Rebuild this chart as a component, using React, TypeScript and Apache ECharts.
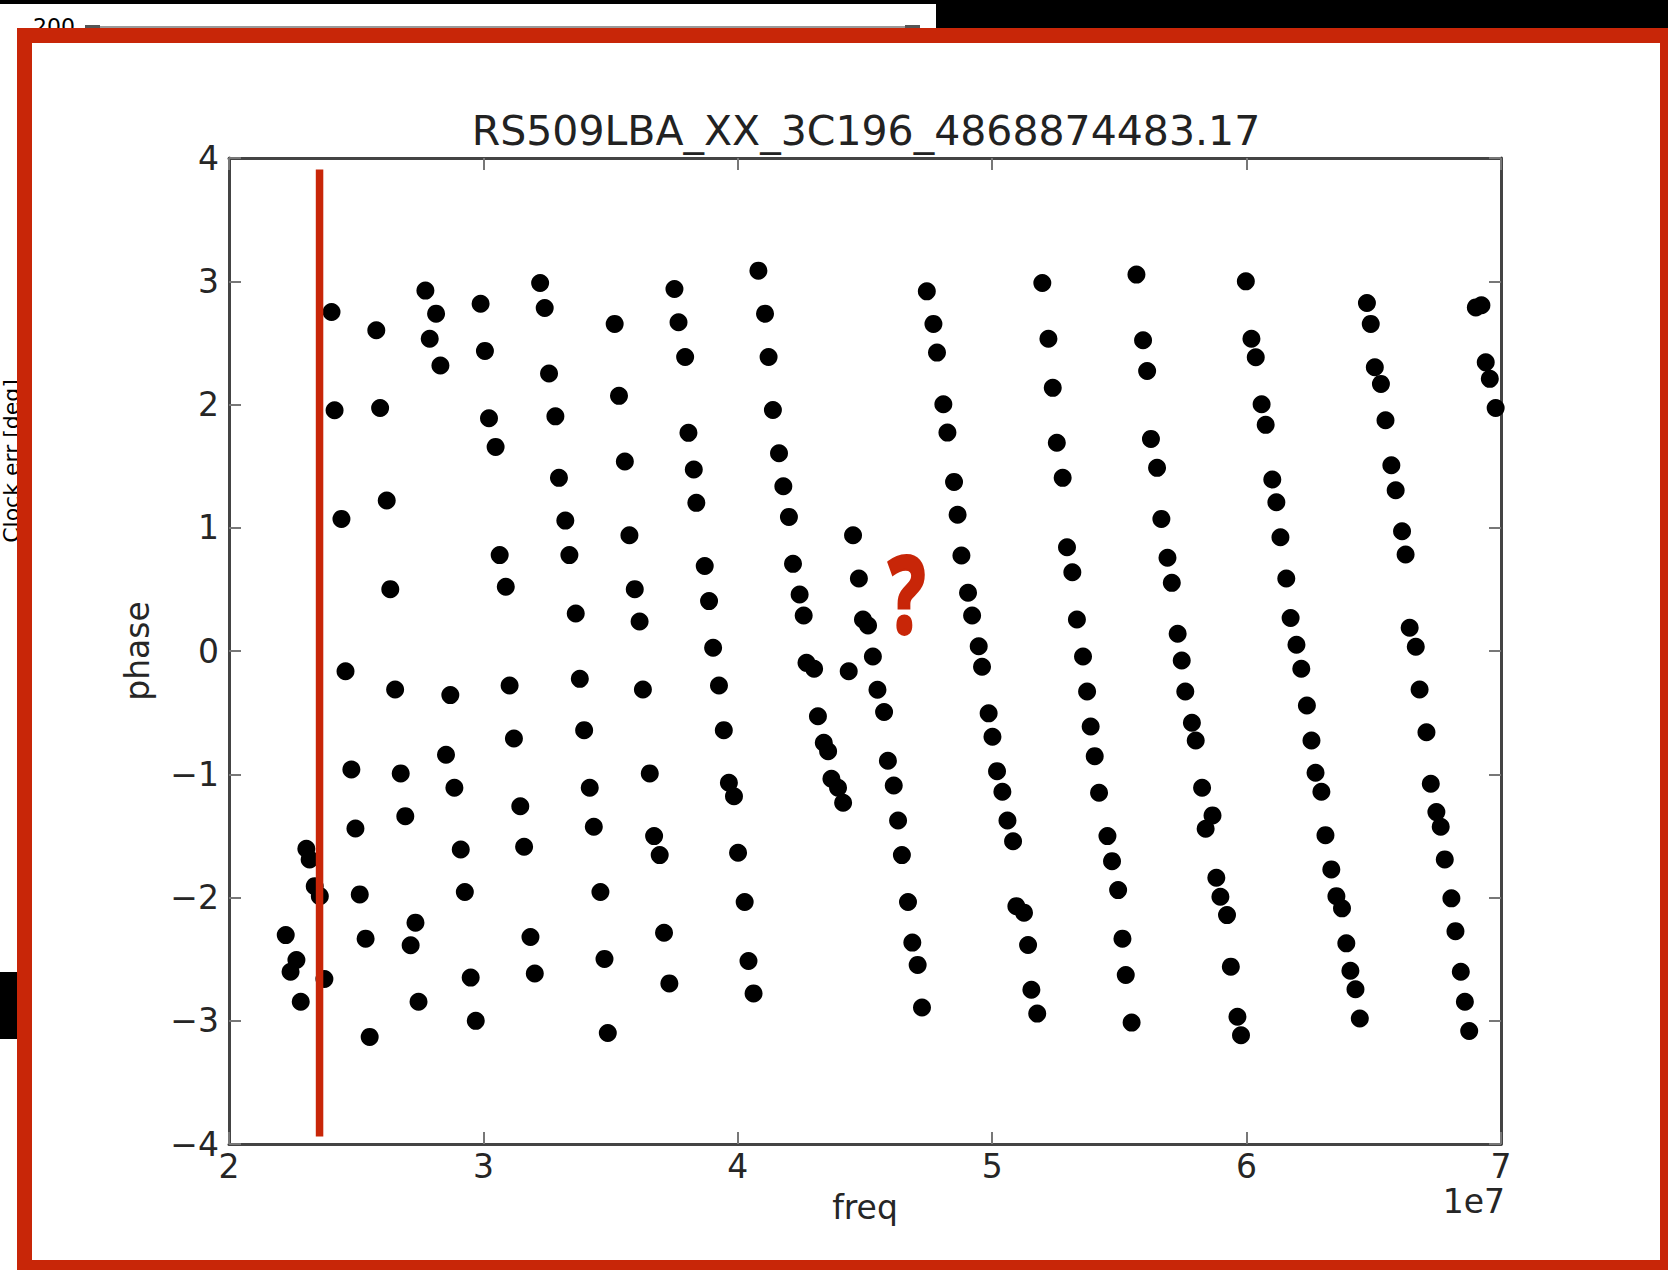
import { useEffect, useRef } from "react";
import * as echarts from "echarts";

const TITLE = "RS509LBA_XX_3C196_4868874483.17";
const X_NAME = "freq";
const Y_NAME = "phase";
const X_OFFSET_LABEL = "1e7";
const X_MIN = 2;
const X_MAX = 7;
const Y_MIN = -4;
const Y_MAX = 4;

// freq values are in units of 1e7 Hz, phase in radians
const freqLow = [
  2.223, 2.265, 2.242, 2.282, 2.304, 2.317, 2.337, 2.357, 2.375,
  2.403, 2.415, 2.442, 2.458, 2.481, 2.497, 2.514, 2.537, 2.553,
  2.579, 2.594, 2.62, 2.634, 2.653, 2.675, 2.693, 2.714, 2.733, 2.745,
  2.772, 2.789, 2.814, 2.831, 2.853, 2.87, 2.886, 2.911, 2.927, 2.95, 2.97,
  2.989, 3.006, 3.022, 3.048, 3.064, 3.088, 3.103, 3.12, 3.145, 3.16, 3.185, 3.202,
  3.223, 3.241, 3.258, 3.283, 3.297, 3.322, 3.338, 3.363, 3.379, 3.396, 3.418, 3.434, 3.46, 3.476, 3.489,
];
const phaseLow = [
  -2.305, -2.507, -2.602, -2.846, -1.604, -1.691, -1.908, -1.989, -2.661,
  2.751, 1.953, 1.072, -0.164, -0.961, -1.44, -1.975, -2.334, -3.131,
  2.602, 1.972, 1.221, 0.502, -0.312, -0.993, -1.34, -2.388, -2.204, -2.846,
  2.924, 2.534, 2.737, 2.316, -0.842, -0.358, -1.109, -1.61, -1.956, -2.65, -3.001,
  2.818, 2.435, 1.888, 1.656, 0.778, 0.521, -0.28, -0.71, -1.259, -1.588, -2.321, -2.616,
  2.986, 2.783, 2.251, 1.904, 1.405, 1.058, 0.778, 0.304, -0.226, -0.642, -1.109, -1.426, -1.956, -2.498, -3.099,
];

const freqMid = [
  3.516, 3.533, 3.556, 3.574, 3.595, 3.614, 3.627, 3.654, 3.671, 3.693, 3.71, 3.731,
  3.751, 3.767, 3.793, 3.806, 3.827, 3.837, 3.87, 3.887, 3.903, 3.926, 3.945, 3.965, 3.985, 4.001, 4.027, 4.042, 4.062,
  4.081, 4.107, 4.121, 4.138, 4.162, 4.179, 4.201, 4.217, 4.243, 4.259, 4.27, 4.3, 4.315, 4.338, 4.355, 4.368, 4.394, 4.414,
  4.436,
  4.453, 4.476, 4.492, 4.512, 4.531, 4.549, 4.575, 4.59, 4.613, 4.63, 4.645, 4.669, 4.686, 4.707, 4.724,
];
const phaseMid = [
  2.654, 2.07, 1.537, 0.939, 0.502, 0.24, -0.312, -0.993, -1.502, -1.656, -2.286, -2.697,
  2.937, 2.667, 2.386, 1.77, 1.472, 1.202, 0.689, 0.405, 0.026, -0.28, -0.642, -1.069, -1.178, -1.637, -2.037, -2.515, -2.778,
  3.086, 2.737, 2.386, 1.956, 1.604, 1.337, 1.088, 0.707, 0.458, 0.288, -0.096, -0.144, -0.529, -0.745, -0.813, -1.037, -1.109, -1.231,
  -0.164,
  0.939, 0.588, 0.256, 0.207, -0.044, -0.314, -0.495, -0.89, -1.091, -1.375, -1.656, -2.037, -2.366, -2.547, -2.892,
];

const freqHigh = [
  4.743, 4.769, 4.783, 4.808, 4.824, 4.85, 4.864, 4.879, 4.905, 4.921, 4.947, 4.96, 4.986, 5.001, 5.019, 5.04, 5.06, 5.082, 5.095, 5.125, 5.141, 5.154, 5.177,
  5.197, 5.221, 5.238, 5.254, 5.277, 5.294, 5.315, 5.333, 5.357, 5.373, 5.387, 5.403, 5.42, 5.453, 5.471, 5.495, 5.512, 5.525, 5.548,
  5.567, 5.593, 5.609, 5.624, 5.648, 5.665, 5.689, 5.706, 5.729, 5.745, 5.759, 5.785, 5.8, 5.825, 5.866, 5.839, 5.881, 5.897, 5.923, 5.938, 5.964, 5.978,
];
const phaseHigh = [
  2.918, 2.654, 2.421, 2.002, 1.772, 1.372, 1.105, 0.775, 0.472, 0.288, 0.039, -0.128, -0.506, -0.696, -0.975, -1.142, -1.375, -1.543, -2.07, -2.123, -2.386, -2.748, -2.942,
  2.986, 2.534, 2.135, 1.689, 1.405, 0.842, 0.639, 0.256, -0.044, -0.328, -0.612, -0.853, -1.15, -1.502, -1.705, -1.94, -2.334, -2.629, -3.015,
  3.054, 2.521, 2.272, 1.721, 1.486, 1.072, 0.756, 0.553, 0.14, -0.077, -0.328, -0.582, -0.726, -1.109, -1.334, -1.442, -1.84, -1.994, -2.143, -2.561, -2.968, -3.118,
];

const freqTop = [
  5.997, 6.019, 6.036, 6.059, 6.075, 6.101, 6.117, 6.133, 6.156, 6.173, 6.196, 6.215, 6.237, 6.255, 6.271, 6.294, 6.31, 6.333, 6.353, 6.375, 6.392, 6.408, 6.428, 6.445,
  6.473, 6.488, 6.504, 6.528, 6.546, 6.569, 6.586, 6.611, 6.625, 6.641, 6.665, 6.68, 6.707, 6.724, 6.746, 6.763, 6.779, 6.805, 6.821, 6.842, 6.858, 6.875,
  6.901, 6.923, 6.94, 6.956, 6.979,
];
const phaseTop = [
  2.999, 2.534, 2.383, 2.002, 1.835, 1.391, 1.207, 0.923, 0.588, 0.268, 0.051, -0.144, -0.442, -0.726, -0.988, -1.142, -1.494, -1.772, -1.989, -2.088, -2.372, -2.594, -2.745, -2.982,
  2.824, 2.654, 2.302, 2.167, 1.872, 1.507, 1.304, 0.972, 0.783, 0.188, 0.034, -0.312, -0.659, -1.077, -1.307, -1.426, -1.691, -2.007, -2.273, -2.602, -2.846, -3.083,
  2.788, 2.805, 2.342, 2.208, 1.972,
];

const RED = "#c82608";
const FONT = "DejaVu Sans";

function pairs(xs: number[], ys: number[]) {
  return xs.map((x, i) => [x, ys[i]]);
}

const fmt = (v: number) => (v < 0 ? "\u2212" + Math.abs(v) : String(v));

export default function App() {
  const ref = useRef<HTMLDivElement>(null);
  useEffect(() => {
    if (!ref.current) return;
    const chart = echarts.init(ref.current, null, { renderer: "svg" });
    const axisLine = { show: true, onZero: false, lineStyle: { color: "#444", width: 3 } };
    const axisTick = { show: true, inside: true, length: 12, lineStyle: { color: "#777", width: 2 } };
    const data = [
      ...pairs(freqLow, phaseLow),
      ...pairs(freqMid, phaseMid),
      ...pairs(freqHigh, phaseHigh),
      ...pairs(freqTop, phaseTop),
    ];
    chart.setOption({
      animation: false,
      backgroundColor: "#ffffff",
      grid: { left: 229, top: 158, width: 1272, height: 986, containLabel: false },
      xAxis: [
        {
          type: "value",
          min: X_MIN,
          max: X_MAX,
          interval: 1,
          position: "bottom",
          axisLine,
          axisTick,
          splitLine: { show: false },
          axisLabel: { formatter: fmt, fontFamily: FONT, fontSize: 33, color: "#262626", margin: 6 },
          name: X_NAME,
          nameLocation: "middle",
          nameGap: 47,
          nameTextStyle: { fontFamily: FONT, fontSize: 33, color: "#262626" },
        },
        {
          type: "value",
          min: X_MIN,
          max: X_MAX,
          interval: 1,
          position: "top",
          axisLine,
          axisTick,
          splitLine: { show: false },
          axisLabel: { show: false },
        },
      ],
      yAxis: [
        {
          type: "value",
          min: Y_MIN,
          max: Y_MAX,
          interval: 1,
          position: "left",
          axisLine,
          axisTick,
          splitLine: { show: false },
          axisLabel: { formatter: fmt, fontFamily: FONT, fontSize: 33, color: "#262626", margin: 10 },
          name: Y_NAME,
          nameLocation: "middle",
          nameGap: 75,
          nameTextStyle: { fontFamily: FONT, fontSize: 33, color: "#262626" },
        },
        {
          type: "value",
          min: Y_MIN,
          max: Y_MAX,
          interval: 1,
          position: "right",
          axisLine,
          axisTick,
          splitLine: { show: false },
          axisLabel: { show: false },
        },
      ],
      series: [
        {
          type: "scatter",
          xAxisIndex: 0,
          yAxisIndex: 0,
          data,
          symbol: "circle",
          symbolSize: 18,
          itemStyle: { color: "#000", opacity: 1 },
          emphasis: { disabled: true },
        },
      ],
      graphic: [
        // remnants of the chart behind the screenshot
        { type: "rect", z: 50, shape: { x: 0, y: 0, width: 1668, height: 4 }, style: { fill: "#000" } },
        { type: "rect", z: 50, shape: { x: 936, y: 0, width: 732, height: 30 }, style: { fill: "#000" } },
        { type: "line", z: 50, shape: { x1: 85, y1: 27, x2: 920, y2: 27 }, style: { stroke: "#9a9a9a", lineWidth: 2 } },
        { type: "rect", z: 50, shape: { x: 85, y: 25, width: 15, height: 4 }, style: { fill: "#555" } },
        { type: "rect", z: 50, shape: { x: 905, y: 25, width: 15, height: 4 }, style: { fill: "#555" } },
        {
          type: "text",
          z: 50,
          x: 33,
          y: 26,
          style: { text: "200", fontFamily: FONT, fontSize: 22, fill: "#000", textAlign: "left", textVerticalAlign: "middle" },
        },
        {
          type: "text",
          z: 50,
          x: 11.5,
          y: 461,
          rotation: Math.PI / 2,
          style: { text: "Clock err [deg]", fontFamily: FONT, fontSize: 22, fill: "#000", textAlign: "center", textVerticalAlign: "middle" },
        },
        { type: "rect", z: 50, shape: { x: 0, y: 972, width: 17, height: 67 }, style: { fill: "#000" } },
        // red annotation frame
        {
          type: "rect",
          z: 100,
          shape: { x: 24.5, y: 35.5, width: 1643, height: 1232 },
          style: { fill: "none", stroke: RED, lineWidth: 15 },
        },
        // red vertical marker line
        { type: "rect", z: 100, shape: { x: 315.8, y: 169.5, width: 7.5, height: 967 }, style: { fill: RED } },
        {
          type: "text",
          z: 100,
          x: 907,
          y: 592,
          scaleX: 0.72,
          style: {
            text: "?",
            fontFamily: "Open Sans",
            fontWeight: "bold",
            fontSize: 106,
            fill: RED,
            stroke: RED,
            lineWidth: 4,
            textAlign: "center",
            textVerticalAlign: "middle",
          },
        },
        // title and offset text
        {
          type: "text",
          z: 60,
          x: 866,
          y: 131,
          style: { text: TITLE, fontFamily: FONT, fontSize: 41, fill: "#222", textAlign: "center", textVerticalAlign: "middle" },
        },
        {
          type: "text",
          z: 60,
          x: 1505,
          y: 1201.5,
          style: { text: X_OFFSET_LABEL, fontFamily: FONT, fontSize: 33, fill: "#262626", textAlign: "right", textVerticalAlign: "middle" },
        },
      ],
    });
    return () => chart.dispose();
  }, []);
  return (
    <div
      ref={ref}
      style={{ position: "absolute", left: 0, top: 0, width: 1668, height: 1270, background: "#fff" }}
    />
  );
}
